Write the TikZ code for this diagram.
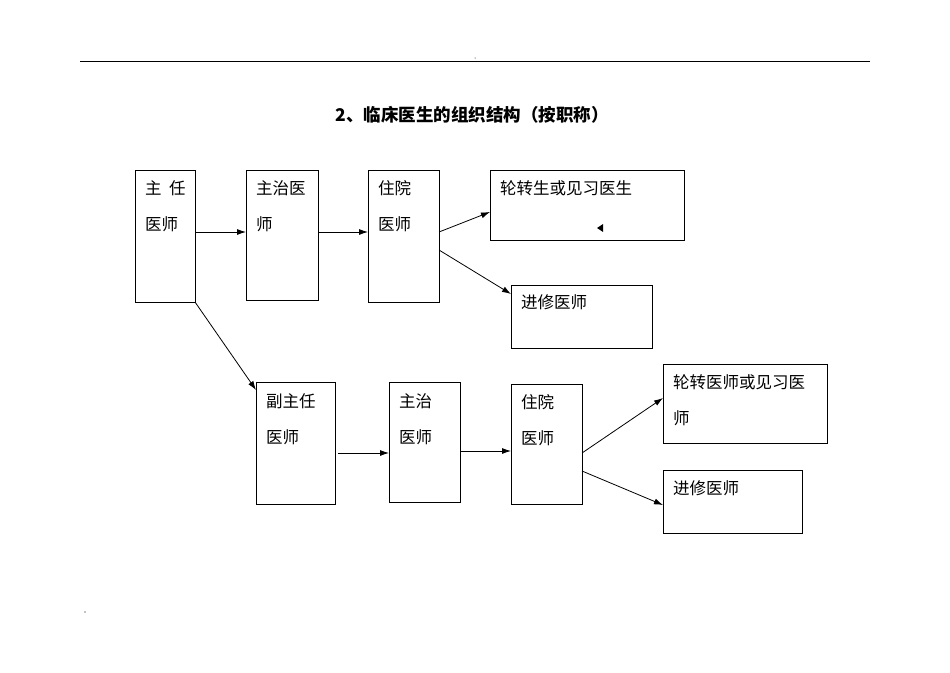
\documentclass[tikz,border=0pt]{standalone}
\usepackage{fontspec}
\setmainfont{Liberation Sans}
\newfontfamily\cjk{Noto Sans CJK SC}
\usetikzlibrary{arrows.meta}
\begin{document}
\begin{tikzpicture}[x=1pt,y=-1pt,
  box/.style={draw,line width=0.8pt},
  lbl/.style={anchor=north west,align=left,font=\cjk\fontsize{16.5}{36}\selectfont,inner sep=0pt},
  arr/.style={-{Latex[length=9pt,width=6pt]},line width=0.8pt}]
\useasboundingbox (0,0) rectangle (950,672);
\draw[line width=1pt] (80,61) -- (870,61);
\fill (475,58) circle (0.5pt);
\fill (85,612) circle (0.6pt);
\node[font=\cjk\bfseries\fontsize{17.5}{20}\selectfont] (title) at (472,115) {2、临床医生的组织结构（按职称）};
% boxes
\draw[box] (135,170) rectangle (195,302);
\node[lbl] (A) at (145,180) {主\ \ 任\\医师};
\draw[box] (246,170) rectangle (318,300);
\node[lbl] (B) at (256,180) {主治医\\师};
\draw[box] (368,170) rectangle (439,302);
\node[lbl] (C) at (378,180) {住院\\医师};
\draw[box] (490,170) rectangle (684,240);
\node[lbl] (D) at (500,180) {轮转生或见习医生};
\fill (597,228) -- (603,224) -- (603,232) -- cycle;
\draw[box] (511,285) rectangle (652,348);
\node[lbl] (E) at (521,294) {进修医师};
\draw[box] (256,382) rectangle (335,504);
\node[lbl] (F) at (266,393) {副主任\\医师};
\draw[box] (389,382) rectangle (460,502);
\node[lbl] (G) at (399,393) {主治\\医师};
\draw[box] (511,384) rectangle (582,504);
\node[lbl] (H) at (521,394) {住院\\医师};
\draw[box] (663,364) rectangle (827,443);
\node[lbl] (I) at (673,374) {轮转医师或见习医\\师};
\draw[box] (663,470) rectangle (802,533);
\node[lbl] (J) at (673,480) {进修医师};
% arrows
\coordinate (a1) at (195,232); \coordinate (b1) at (246,232);
\draw[arr] (a1) -- (b1);
\coordinate (b2) at (318,232); \coordinate (c1) at (368,232);
\draw[arr] (b2) -- (c1);
\coordinate (c2) at (439,232); \coordinate (d1a) at (490,212);
\draw[arr] (c2) -- (d1a);
\coordinate (c3) at (439,250); \coordinate (e1) at (511,294);
\draw[arr] (c3) -- (e1);
\coordinate (a2) at (195,302); \coordinate (f1) at (256,390);
\draw[arr] (a2) -- (f1);
\coordinate (f2) at (338,453); \coordinate (g1) at (389,453);
\draw[arr] (f2) -- (g1);
\coordinate (g2) at (460,451); \coordinate (h1) at (511,451);
\draw[arr] (g2) -- (h1);
\coordinate (h2) at (582,453); \coordinate (i1) at (663,398);
\draw[arr] (h2) -- (i1);
\coordinate (h3) at (582,471); \coordinate (j1) at (663,505);
\draw[arr] (h3) -- (j1);
\end{tikzpicture}
\end{document}
